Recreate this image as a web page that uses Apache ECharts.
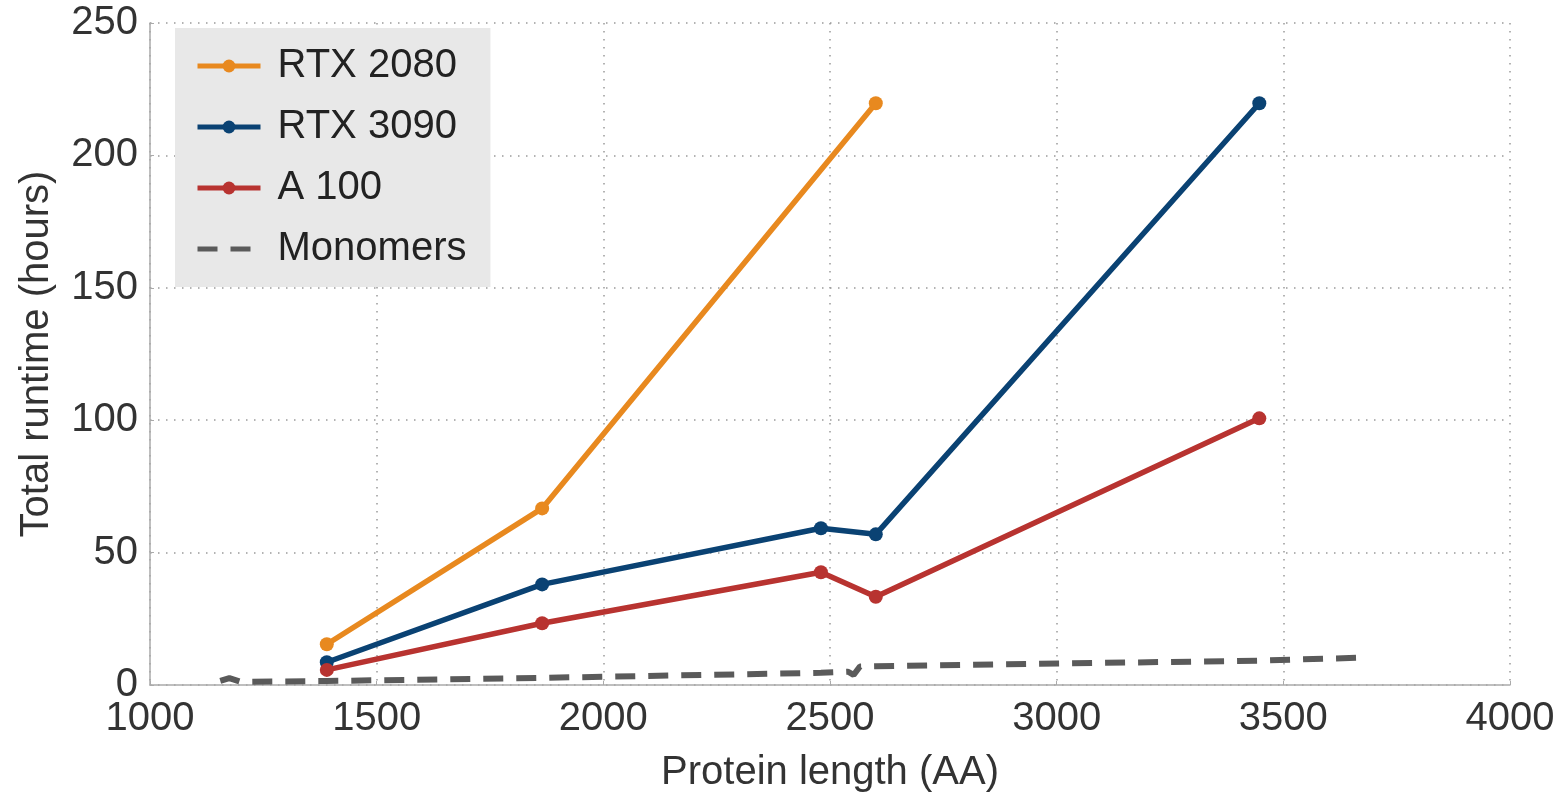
<!DOCTYPE html>
<html>
<head>
<meta charset="utf-8">
<script src="https://cdn.jsdelivr.net/npm/echarts@6/dist/echarts.min.js"></script>
<style>
  html, body { margin: 0; padding: 0; background: #fff; }
  #chart { width: 1562px; height: 796px; }
</style>
</head>
<body>
<div id="chart"></div>
<script>
// protein length (AA) -> total runtime (hours)
var rtx2080 = [[1390, 15.4], [1865, 66.7], [2601, 219.7]];
var rtx3090 = [[1390, 8.6], [1865, 38.0], [2480, 59.2], [2601, 56.9], [3447, 219.7]];
var a100 = [[1390, 5.7], [1865, 23.3], [2480, 42.6], [2601, 33.3], [3447, 100.7]];
var monomers = [[1155, 1.6], [1175, 2.6], [1200, 1.2], [1390, 1.5], [1865, 2.7],
  [2480, 4.6], [2540, 5.0], [2552, 3.8], [2566, 7.0], [2601, 7.1], [3447, 9.2], [3665, 10.3]];
var xTicks = [1000, 1500, 2000, 2500, 3000, 3500, 4000];
var yTicks = [0, 50, 100, 150, 200, 250];

var font = '"Liberation Sans", Arial, Helvetica, sans-serif';
var gridLine = { show: true, lineStyle: { color: '#9a9a9a', width: 1.5, type: [1.5, 6.5] } };

var chart = echarts.init(document.getElementById('chart'));

function lineSeries(name, data, color) {
  return {
    name: name,
    type: 'line',
    data: data,
    symbol: 'circle',
    symbolSize: 14,
    showSymbol: true,
    lineStyle: { color: color, width: 5.5 },
    itemStyle: { color: color },
    emphasis: { disabled: true },
    z: 3
  };
}

chart.setOption({
  animation: false,
  textStyle: { fontFamily: font },
  grid: { left: 150, right: 52, top: 23, bottom: 111, containLabel: false, outerBoundsMode: 'none' },
  legend: {
    left: 175,
    top: 28,
    orient: 'vertical',
    backgroundColor: '#e8e8e8',
    padding: [18, 24, 18, 20],
    itemWidth: 63,
    itemHeight: 16,
    itemGap: 21,
    lineStyle: { width: 5 },
    textStyle: { fontSize: 40, color: '#222', lineHeight: 40, padding: [0, 0, 0, 12], fontFamily: font },
    data: ['RTX 2080', 'RTX 3090', 'A 100', { name: 'Monomers', itemStyle: { opacity: 0 } }]
  },
  xAxis: {
    type: 'value',
    min: xTicks[0],
    max: xTicks[xTicks.length - 1],
    interval: 500,
    name: 'Protein length (AA)',
    nameLocation: 'middle',
    nameGap: 68,
    nameTextStyle: { fontSize: 40, color: '#333', fontFamily: font },
    axisLine: { show: true, lineStyle: { color: '#aaa', width: 1.5 } },
    axisTick: { show: true, inside: true, length: 4, lineStyle: { color: '#aaa' } },
    axisLabel: { fontSize: 40, color: '#333', margin: 14, fontFamily: font, formatter: function (v) { return String(v); } },
    splitLine: gridLine
  },
  yAxis: {
    type: 'value',
    min: yTicks[0],
    max: yTicks[yTicks.length - 1],
    interval: 50,
    name: 'Total runtime (hours)',
    nameLocation: 'middle',
    nameGap: 93,
    nameTextStyle: { fontSize: 40, color: '#333', fontFamily: font },
    axisLine: { show: true, lineStyle: { color: '#aaa', width: 1.5 } },
    axisTick: { show: true, inside: true, length: 4, lineStyle: { color: '#aaa' } },
    axisLabel: { fontSize: 40, color: '#333', margin: 12, fontFamily: font, formatter: function (v) { return String(v); } },
    splitLine: gridLine
  },
  series: [
    lineSeries('RTX 2080', rtx2080, '#e8891f'),
    lineSeries('RTX 3090', rtx3090, '#0a4273'),
    lineSeries('A 100', a100, '#b83330'),
    {
      name: 'Monomers',
      type: 'line',
      data: monomers,
      symbol: 'none',
      lineStyle: { color: '#5a5a5a', width: 6, type: [20, 13] },
      itemStyle: { color: '#5a5a5a' },
      emphasis: { disabled: true },
      z: 2
    }
  ]
});
</script>
</body>
</html>
